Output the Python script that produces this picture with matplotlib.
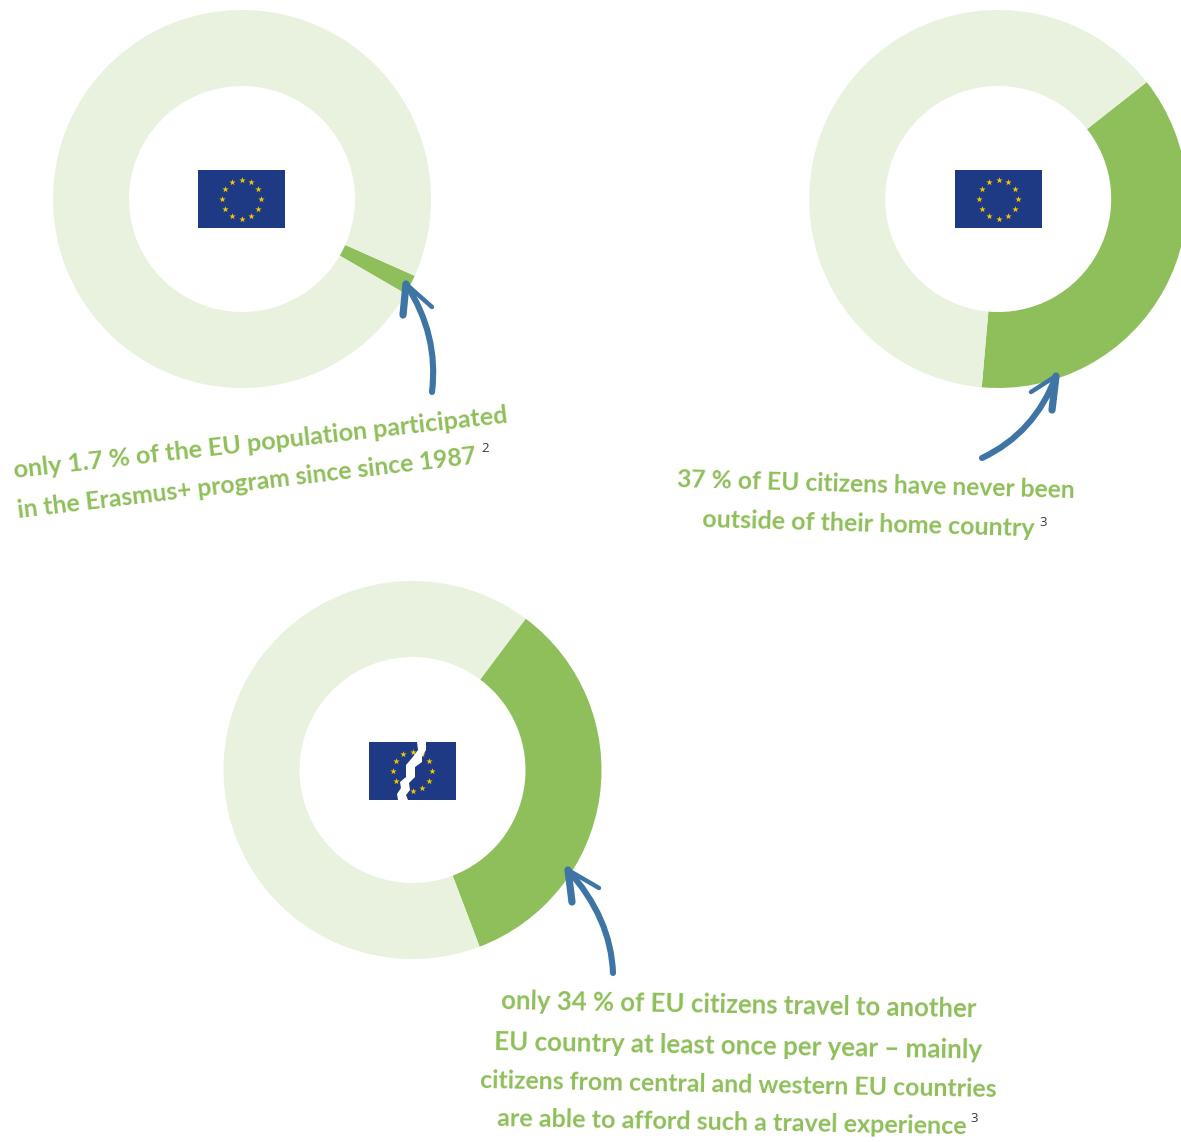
import matplotlib
matplotlib.use('Agg')
import matplotlib.pyplot as plt
import numpy as np
from matplotlib.patches import Rectangle, Polygon, PathPatch
from matplotlib.path import Path

W, H = 1181, 1142
GREEN = '#8fbf5a'
PALE = '#e8f2df'
BLUE = '#3e75a4'
NAVY = '#1f3a84'
GOLD = '#f5c800'
FONT = ['Lato', 'DejaVu Sans']

# share of citizens in each ring, percent
erasmus = 1.7
never_abroad = 37
travel_yearly = 34

# ring centre in pixels and the angle where the green part starts
rings = [(242, 199, erasmus, -30.1), (998.2, 199, never_abroad, -95.0), (412.5, 770, travel_yearly, -69.2)]

# text, x, y, rotation, width in pixels
labels = [
    ('only 1.7 % of the EU population participated', 261, 443, 6.4, 497),
    ('in the Erasmus+ program since since 1987', 247, 483, 6.8, 463),
    ('37 % of EU citizens have never been', 876, 485, -1.6, 398),
    ('outside of their home country', 868, 524, -1.6, 332),
    ('only 34 % of EU citizens travel to another', 739, 1005, -1, 474),
    ('EU country at least once per year – mainly', 738, 1046, -1, 487),
    ('citizens from central and western EU countries', 738, 1085, -1, 517),
    ('are able to afford such a travel experience', 732, 1123, -1, 470),
]
notes = [('2', 485, 448), ('3', 1043, 522), ('3', 974, 1118)]

# arrow: start, control, tip, then the two barbs
arrows = [
    ((432, 392), (439, 335), (406, 284), (432, 307), (403, 315)),
    ((982, 458), (1035, 433), (1056, 376), (1031, 392), (1052, 410)),
    ((613, 973), (611, 918), (568, 870), (599, 888), (572, 902)),
]

# flag: left edge, top edge
flags = [(198, 170), (955, 170), (369, 742)]
crack = [(417, 742), (418, 750), (412, 758), (406, 765), (406, 777), (400, 782), (401, 788), (397, 794), (398, 800),
         (408, 800), (406, 795), (410, 790), (409, 783), (415, 777), (415, 767), (422, 762), (422, 757), (426, 750), (426, 742)]


def up(y):
    return H - y


fig = plt.figure(figsize=(W / 100, H / 100), dpi=100)
ax = fig.add_axes([0, 0, 1, 1])

for x, y, share, start in rings:
    ax.pie([share, 100 - share], colors=[GREEN, PALE], center=(x, up(y)), radius=189, startangle=start,
           wedgeprops=dict(width=76, linewidth=0))

for left, top in flags:
    ax.add_patch(Rectangle((left, up(top + 58)), 87, 58, color=NAVY, lw=0, zorder=3))
    a = np.deg2rad(np.arange(0, 360, 30))
    ax.scatter(left + 43.5 + 19.5 * np.cos(a), up(top + 29) + 19.5 * np.sin(a), marker='*', s=23, color=GOLD, lw=0, zorder=4)
ax.add_patch(Polygon([(px, up(py)) for px, py in crack], color='white', lw=0, zorder=5))

for start, ctrl, tip, b1, b2 in arrows:
    pts = [(p[0], up(p[1])) for p in (start, ctrl, tip)]
    ax.add_patch(PathPatch(Path(pts, [Path.MOVETO, Path.CURVE3, Path.CURVE3]), fc='none', ec=BLUE, lw=4.4,
                           capstyle='round', zorder=6))
    for b, w in ((b1, 3.2), (b2, 5.2)):
        ax.plot([b[0], tip[0]], [up(b[1]), up(tip[1])], color=BLUE, lw=w, solid_capstyle='round', zorder=6)

ax.set_xlim(0, W)
ax.set_ylim(0, H)
ax.set_aspect('equal')
ax.axis('off')

# size each line so that it spans its measured width
rend = fig.canvas.get_renderer()
for txt, x, y, rot, width in labels:
    t = ax.text(x, up(y), txt, ha='center', va='center', rotation_mode='anchor', fontsize=20, color=GREEN,
                family=FONT, fontweight='bold')
    t.set_fontsize(20 * width / t.get_window_extent(rend).width)
    t.set_rotation(rot)
for txt, x, y in notes:
    ax.text(x, up(y), txt, ha='center', va='center', fontsize=9.5, color='#3a3a3a', family=['Open Sans', 'DejaVu Sans'])

fig.savefig('out.png', dpi=100, facecolor='white')
